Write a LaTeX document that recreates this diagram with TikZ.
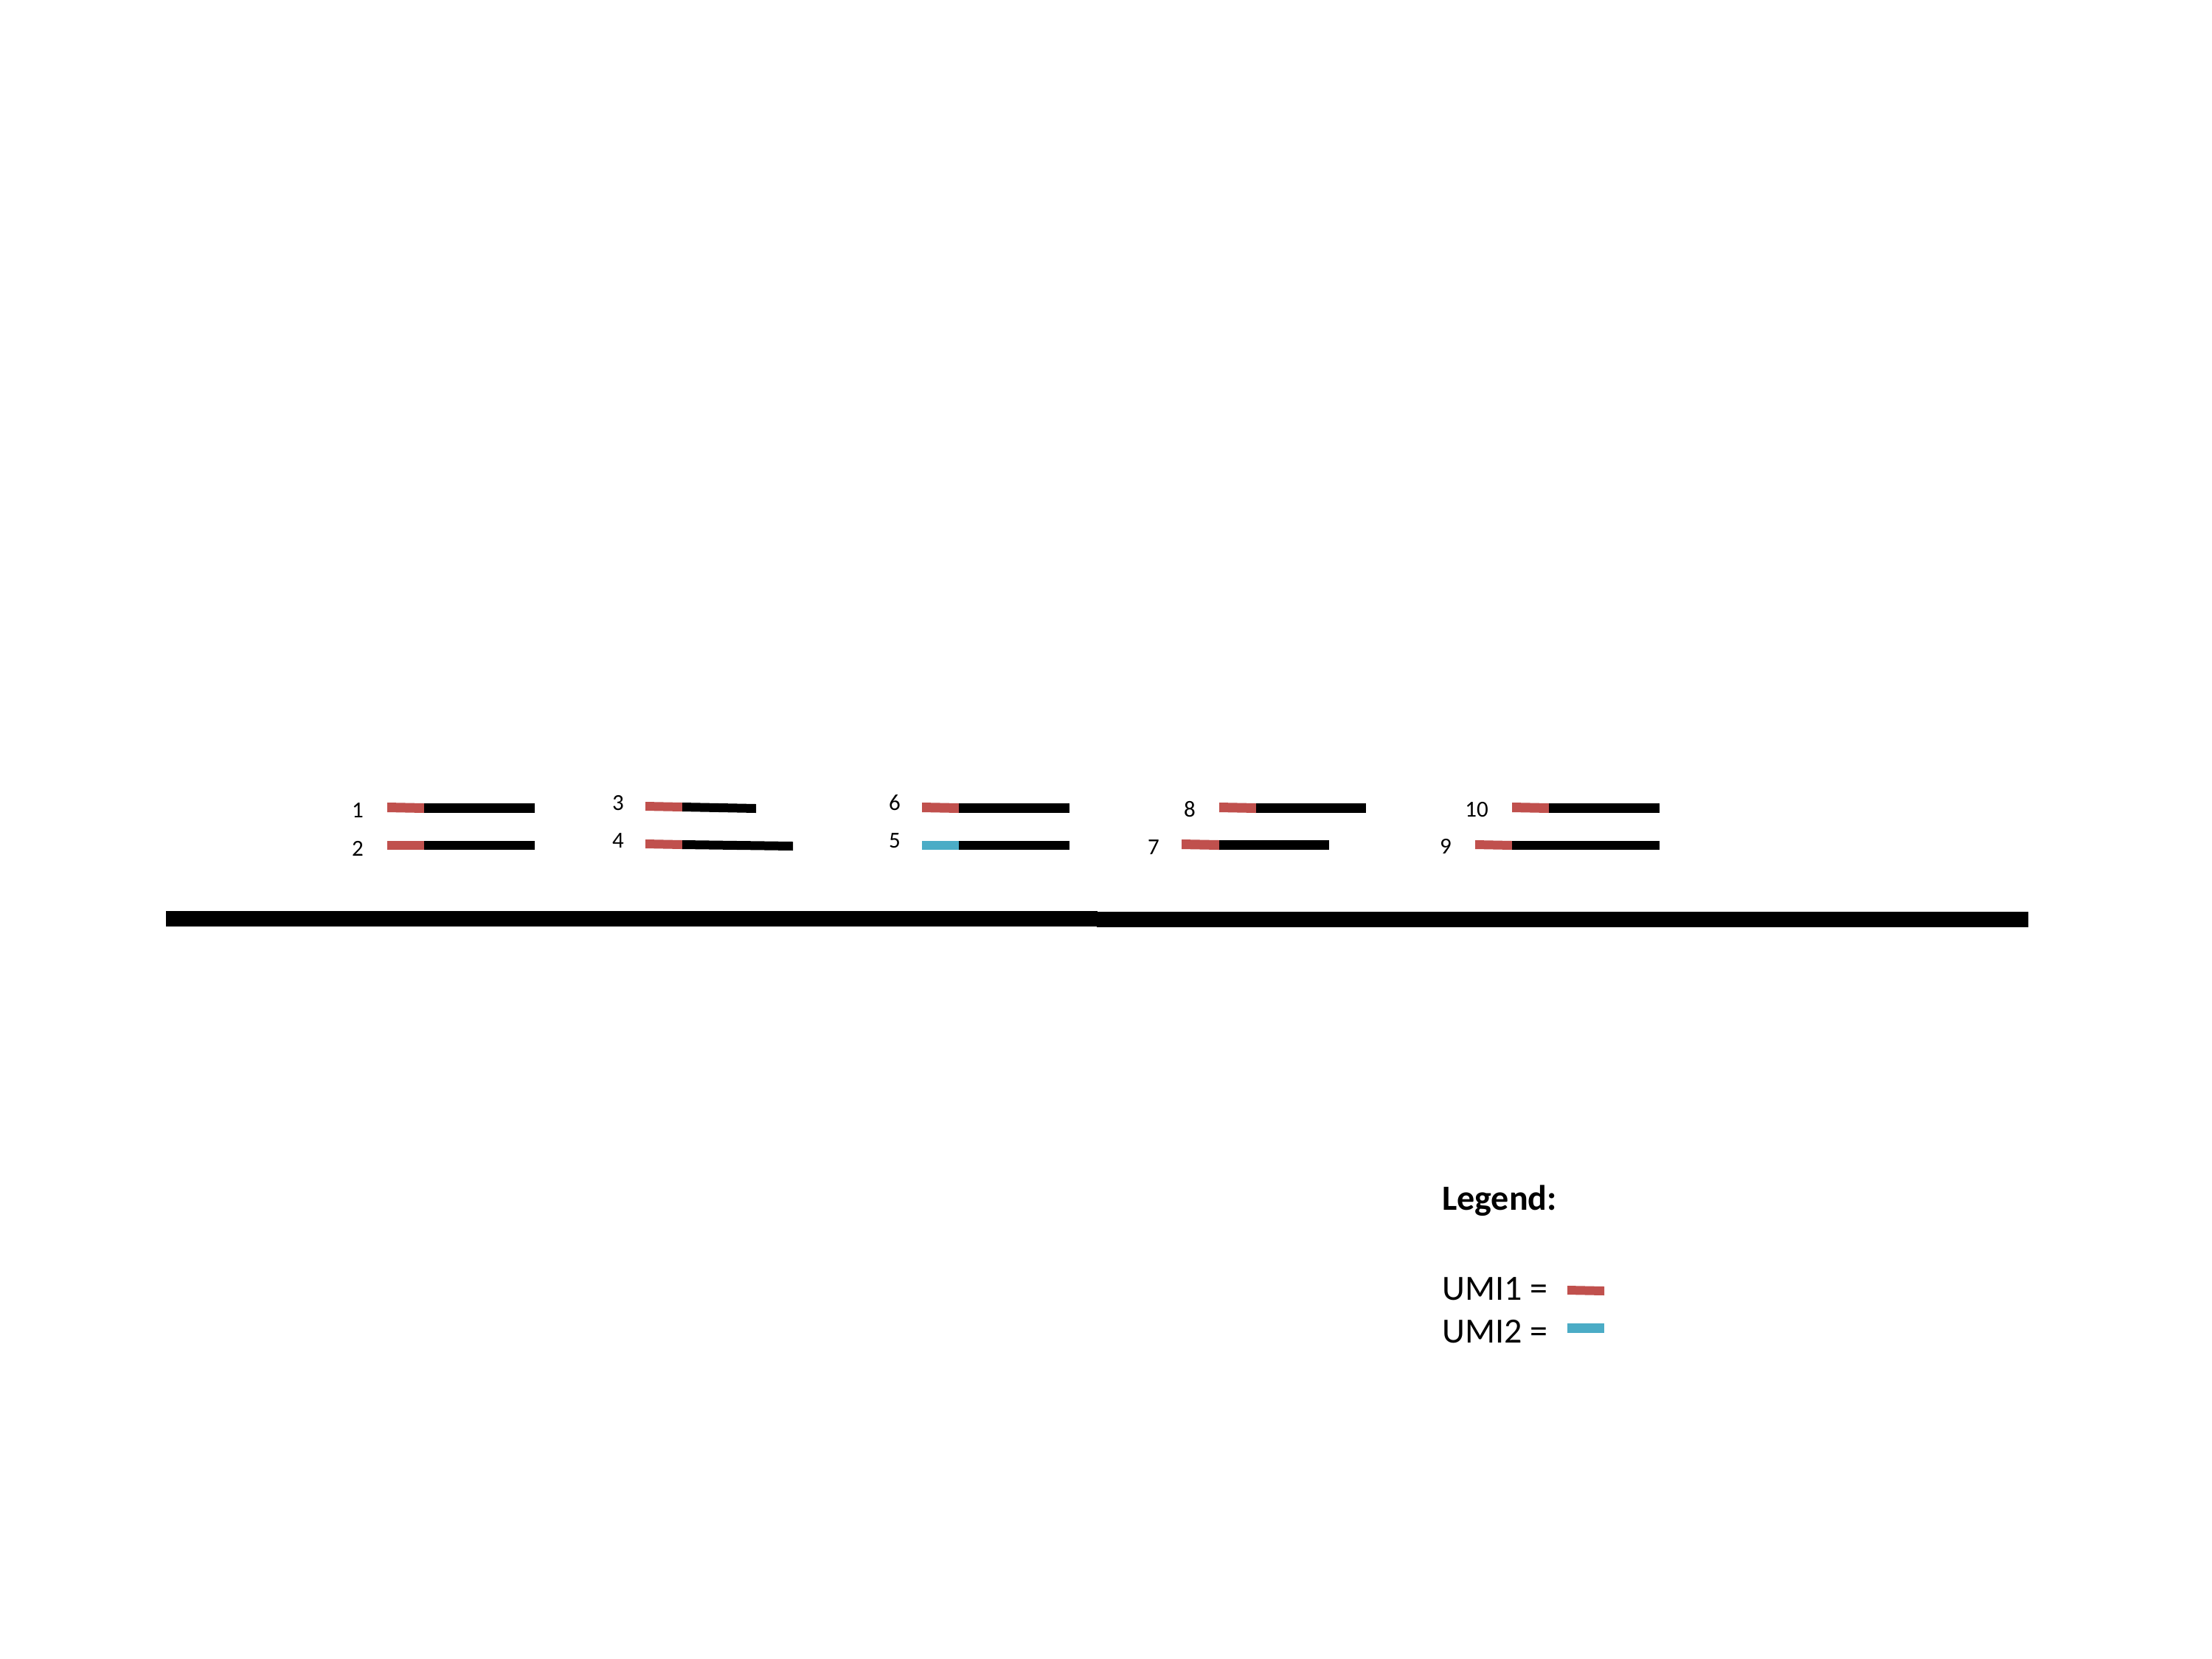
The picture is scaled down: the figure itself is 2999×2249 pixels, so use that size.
\documentclass[tikz,border=0pt]{standalone}
\usepackage{fontspec}
\setmainfont{Carlito}
\definecolor{umired}{HTML}{C0504D}
\definecolor{umiblue}{HTML}{4BACC6}
\tikzset{
  num/.style={inner sep=0pt, anchor=base, font=\fontsize{31}{37}\selectfont},
  legtext/.style={inner sep=0pt, anchor=base west, font=\fontsize{48}{58}\selectfont},
  umione/.style={fill=umired, draw=none},
  umitwo/.style={fill=umiblue, draw=none},
  readbody/.style={fill=black, draw=none},
  refbar/.style={fill=black, draw=none}
}
\begin{document}
\begin{tikzpicture}[x=1pt, y=-1pt]
\useasboundingbox[fill=white] (0,0) rectangle (2999,2249);

% reference
\fill[refbar] (225,1235) rectangle (1488,1256);
\fill[refbar] (1487,1236) rectangle (2750,1257);

% read 1
\fill[umione] (525,1088) -- (575,1089) -- (575,1102) -- (525,1101) -- cycle;
\fill[readbody] (575,1089) rectangle (725,1102);
\node[num] (n1) at (485,1108) {1};
% read 2
\fill[umione] (525,1140) rectangle (575,1152);
\fill[readbody] (575,1140) rectangle (725,1152);
\node[num] (n2) at (485,1160) {2};

% read 3
\fill[umione] (875,1087) -- (925,1088) -- (925,1100) -- (875,1099) -- cycle;
\fill[readbody] (925,1088) -- (1025,1090) -- (1025,1102) -- (925,1100) -- cycle;
\node[num] (n3) at (838,1098) {3};
% read 4
\fill[umione] (875,1138) -- (925,1139) -- (925,1151) -- (875,1150) -- cycle;
\fill[readbody] (925,1139) -- (1075,1141) -- (1075,1153) -- (925,1151) -- cycle;
\node[num] (n4) at (838,1149) {4};

% read 6
\fill[umione] (1250,1088) -- (1300,1089) -- (1300,1102) -- (1250,1101) -- cycle;
\fill[readbody] (1300,1089) rectangle (1450,1102);
\node[num] (n6) at (1213,1098) {6};
% read 5
\fill[umitwo] (1250,1140) rectangle (1300,1152);
\fill[readbody] (1300,1140) rectangle (1450,1152);
\node[num] (n5) at (1213,1149) {5};

% read 8
\fill[umione] (1653,1088) -- (1703,1089) -- (1703,1102) -- (1653,1101) -- cycle;
\fill[readbody] (1703,1089) rectangle (1852,1102);
\node[num] (n8) at (1613,1107) {8};
% read 7
\fill[umione] (1602,1138) -- (1653,1139) -- (1653,1152) -- (1602,1151) -- cycle;
\fill[readbody] (1653,1139) rectangle (1802,1152);
\node[num] (n7) at (1564,1158) {7};

% read 10
\fill[umione] (2050,1088) -- (2100,1089) -- (2100,1102) -- (2050,1101) -- cycle;
\fill[readbody] (2100,1089) rectangle (2250,1102);
\node[num] (n10) at (2002,1107) {10};
% read 9
\fill[umione] (2000,1139) -- (2050,1140) -- (2050,1152) -- (2000,1151) -- cycle;
\fill[readbody] (2050,1140) rectangle (2250,1152);
\node[num] (n9) at (1960,1157) {9};

% legend
\node[legtext, font=\fontsize{48}{58}\selectfont\bfseries] (leg) at (1955,1640) {Legend:};
\node[legtext] (u1) at (1955,1762) {UMI1 =};
\node[legtext] (u2) at (1955,1820) {UMI2 =};
\fill[umione] (2125,1743) -- (2175,1744) -- (2175,1756) -- (2125,1755) -- cycle;
\fill[umitwo] (2125,1794) rectangle (2175,1807);
\end{tikzpicture}
\end{document}
